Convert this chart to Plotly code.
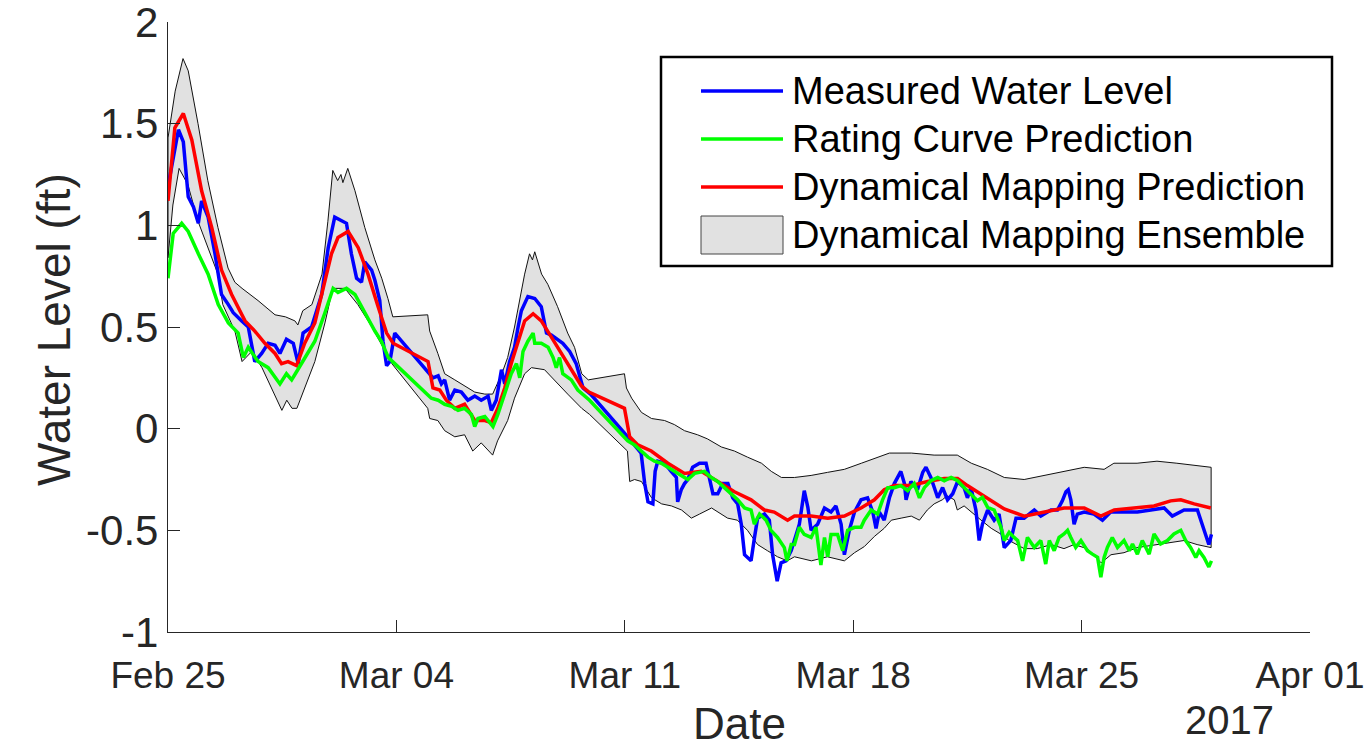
import numpy as np
import pandas as pd
import plotly.graph_objects as go

# Time axis: days elapsed since 2017-02-25 00:00
T0 = pd.Timestamp("2017-02-25")

# Ensemble envelope (ft), (day, value)
ensemble_upper = [
    (0.00, 1.43), (0.22, 1.66), (0.46, 1.82), (0.62, 1.76), (0.92, 1.50), (1.22, 1.22),
    (1.53, 0.99), (1.84, 0.79), (2.05, 0.72), (2.27, 0.69), (2.76, 0.63), (3.28, 0.56),
    (3.60, 0.55), (3.89, 0.53), (3.98, 0.51), (4.13, 0.58), (4.41, 0.61), (4.72, 0.76),
    (4.90, 1.02), (5.05, 1.27), (5.20, 1.22), (5.30, 1.25), (5.36, 1.21), (5.51, 1.28),
    (5.73, 1.17), (6.03, 0.99), (6.34, 0.83), (6.55, 0.74), (6.74, 0.64), (6.89, 0.55),
    (7.96, 0.56), (8.02, 0.48), (8.27, 0.37), (8.48, 0.27), (8.79, 0.24), (9.09, 0.21),
    (9.40, 0.18), (9.71, 0.17), (9.95, 0.17), (10.23, 0.27), (10.41, 0.35), (10.62, 0.50),
    (10.78, 0.63), (10.93, 0.76), (11.08, 0.86), (11.17, 0.83), (11.24, 0.87), (11.45, 0.76),
    (11.64, 0.71), (11.94, 0.60), (12.25, 0.47), (12.46, 0.40), (12.68, 0.27), (12.88, 0.24),
    (13.99, 0.27), (14.05, 0.20), (14.21, 0.15), (14.51, 0.08), (14.82, 0.05), (15.22, 0.04),
    (15.52, 0.02), (15.83, -0.01), (16.23, -0.03), (16.53, -0.05), (16.96, -0.09), (17.36, -0.11),
    (17.76, -0.14), (18.19, -0.17), (18.49, -0.21), (18.80, -0.24), (19.20, -0.24), (19.71, -0.23),
    (20.21, -0.215), (20.73, -0.20), (21.25, -0.17), (21.74, -0.14), (22.11, -0.12), (22.78, -0.12),
    (23.48, -0.13), (24.19, -0.13), (24.62, -0.17), (25.11, -0.20), (25.63, -0.24), (26.24, -0.25),
    (26.85, -0.23), (27.46, -0.21), (28.08, -0.19), (28.69, -0.20), (28.99, -0.17), (29.70, -0.17),
    (30.31, -0.16), (30.92, -0.17), (31.44, -0.18), (31.97, -0.19),
]

ensemble_lower = [
    (0.00, 0.84), (0.15, 1.10), (0.34, 1.28), (0.61, 1.20), (0.92, 1.02), (1.22, 0.89),
    (1.53, 0.76), (1.68, 0.61), (2.05, 0.48), (2.27, 0.33), (2.57, 0.38), (2.88, 0.30),
    (3.18, 0.20), (3.49, 0.09), (3.64, 0.14), (3.80, 0.10), (3.95, 0.10), (4.19, 0.20),
    (4.50, 0.33), (4.81, 0.52), (5.05, 0.69), (5.42, 0.69), (5.82, 0.61), (6.25, 0.50),
    (6.49, 0.43), (6.86, 0.32), (7.96, 0.10), (8.02, 0.05), (8.27, 0.04), (8.48, -0.01),
    (8.79, -0.04), (9.09, -0.03), (9.34, -0.11), (9.60, -0.07), (9.95, -0.13), (10.10, -0.06),
    (10.41, 0.04), (10.62, 0.15), (10.93, 0.27), (11.14, 0.30), (11.54, 0.29), (11.85, 0.24),
    (12.25, 0.17), (12.68, 0.10), (12.92, 0.07), (14.08, -0.11), (14.15, -0.26), (14.30, -0.25),
    (14.51, -0.26), (14.82, -0.34), (15.13, -0.37), (15.43, -0.38), (15.74, -0.40), (16.04, -0.44),
    (16.29, -0.42), (16.66, -0.39), (16.84, -0.41), (17.15, -0.44), (17.45, -0.45), (17.76, -0.50),
    (18.07, -0.57), (18.37, -0.60), (18.68, -0.63), (18.98, -0.65), (19.20, -0.63), (19.72, -0.65),
    (20.21, -0.63), (20.73, -0.65), (21.04, -0.61), (21.34, -0.58), (21.65, -0.53), (21.95, -0.49),
    (22.17, -0.45), (22.47, -0.44), (22.78, -0.43), (23.03, -0.45), (23.27, -0.40), (23.48, -0.37),
    (23.73, -0.35), (23.88, -0.33), (24.10, -0.35), (24.19, -0.40), (24.40, -0.38), (24.71, -0.42),
    (24.92, -0.45), (25.23, -0.49), (25.54, -0.52), (25.78, -0.55), (26.24, -0.59), (26.64, -0.59),
    (27.07, -0.57), (27.46, -0.59), (27.77, -0.57), (28.17, -0.59), (28.60, -0.66), (28.90, -0.62),
    (29.30, -0.61), (29.70, -0.585), (30.22, -0.57), (30.74, -0.56), (31.14, -0.55), (31.54, -0.57),
    (31.97, -0.585),
]

# Measured water level (ft)
measured = [
    (0.00, 1.19), (0.32, 1.47), (0.47, 1.41), (0.62, 1.14), (0.78, 1.09), (0.93, 1.01),
    (1.03, 1.12), (1.23, 1.04), (1.44, 0.86), (1.64, 0.66), (1.85, 0.61), (2.00, 0.57),
    (2.26, 0.53), (2.46, 0.50), (2.66, 0.33), (2.87, 0.37), (3.07, 0.42), (3.28, 0.41),
    (3.43, 0.37), (3.63, 0.44), (3.84, 0.42), (3.99, 0.32), (4.14, 0.47), (4.40, 0.50),
    (4.71, 0.66), (4.91, 0.89), (5.11, 1.04), (5.47, 1.01), (5.62, 0.86), (5.78, 0.74),
    (5.93, 0.72), (6.03, 0.82), (6.24, 0.78), (6.34, 0.73), (6.49, 0.63), (6.59, 0.43),
    (6.70, 0.31), (6.80, 0.33), (6.95, 0.47), (8.12, 0.25), (8.28, 0.26), (8.38, 0.22),
    (8.48, 0.24), (8.63, 0.14), (8.79, 0.19), (8.99, 0.18), (9.19, 0.14), (9.40, 0.16),
    (9.60, 0.14), (9.81, 0.16), (9.91, 0.09), (10.06, 0.14), (10.22, 0.29), (10.32, 0.22),
    (10.47, 0.33), (10.62, 0.40), (10.73, 0.50), (10.83, 0.58), (11.03, 0.65), (11.24, 0.64),
    (11.44, 0.60), (11.60, 0.47), (11.75, 0.46), (12.10, 0.42), (12.31, 0.38), (12.51, 0.32),
    (12.72, 0.20), (12.95, 0.17), (14.09, -0.04), (14.30, -0.08), (14.50, -0.12), (14.61, -0.27),
    (14.71, -0.36), (14.86, -0.37), (14.93, -0.21), (15.01, -0.16), (15.22, -0.17), (15.42, -0.21),
    (15.58, -0.24), (15.62, -0.36), (15.73, -0.30), (15.83, -0.27), (15.93, -0.25), (16.08, -0.19),
    (16.29, -0.17), (16.49, -0.17), (16.60, -0.26), (16.70, -0.32), (16.85, -0.32), (17.00, -0.27),
    (17.16, -0.27), (17.31, -0.34), (17.46, -0.37), (17.57, -0.47), (17.67, -0.62), (17.87, -0.65),
    (17.97, -0.54), (18.07, -0.44), (18.28, -0.42), (18.43, -0.45), (18.53, -0.62), (18.67, -0.75),
    (18.79, -0.66), (18.94, -0.65), (19.10, -0.60), (19.20, -0.55), (19.35, -0.47), (19.50, -0.305),
    (19.61, -0.387), (19.71, -0.50), (19.91, -0.47), (20.12, -0.39), (20.32, -0.41), (20.47, -0.38),
    (20.63, -0.47), (20.73, -0.62), (20.88, -0.50), (21.04, -0.41), (21.24, -0.35), (21.44, -0.34),
    (21.60, -0.41), (21.70, -0.49), (21.80, -0.41), (21.95, -0.45), (22.11, -0.34), (22.26, -0.27),
    (22.46, -0.21), (22.57, -0.27), (22.62, -0.35), (22.77, -0.26), (22.97, -0.30), (23.13, -0.215),
    (23.23, -0.19), (23.38, -0.24), (23.59, -0.34), (23.74, -0.29), (23.89, -0.35), (24.05, -0.32),
    (24.20, -0.26), (24.40, -0.29), (24.50, -0.34), (24.61, -0.29), (24.76, -0.40), (24.86, -0.55),
    (24.96, -0.47), (25.12, -0.40), (25.32, -0.45), (25.47, -0.42), (25.63, -0.585), (25.83, -0.55),
    (25.99, -0.44), (26.24, -0.44), (26.55, -0.40), (26.75, -0.43), (27.06, -0.40), (27.26, -0.40),
    (27.41, -0.355), (27.52, -0.31), (27.59, -0.30), (27.67, -0.35), (27.77, -0.47), (27.87, -0.42),
    (28.08, -0.41), (28.38, -0.42), (28.64, -0.45), (28.89, -0.41), (29.30, -0.41), (29.71, -0.41),
    (30.12, -0.40), (30.53, -0.39), (30.78, -0.43), (31.14, -0.40), (31.55, -0.40), (31.75, -0.49),
    (31.90, -0.57), (31.98, -0.52),
]

# Rating curve prediction (ft)
rating_curve = [
    (0.00, 0.74), (0.16, 0.96), (0.42, 1.01), (0.62, 0.97), (0.93, 0.86), (1.23, 0.76),
    (1.54, 0.61), (1.85, 0.52), (2.15, 0.47), (2.31, 0.35), (2.46, 0.40), (2.76, 0.33),
    (3.07, 0.30), (3.43, 0.22), (3.63, 0.27), (3.79, 0.24), (3.94, 0.28), (4.19, 0.35),
    (4.50, 0.43), (4.81, 0.57), (5.06, 0.69), (5.21, 0.67), (5.47, 0.69), (5.73, 0.66),
    (6.03, 0.57), (6.34, 0.48), (6.54, 0.43), (6.75, 0.35), (6.95, 0.32), (8.07, 0.15),
    (8.28, 0.14), (8.48, 0.12), (8.69, 0.11), (8.89, 0.09), (9.09, 0.10), (9.30, 0.07),
    (9.40, 0.01), (9.50, 0.05), (9.71, 0.06), (9.96, 0.01), (10.11, 0.07), (10.32, 0.17),
    (10.52, 0.27), (10.68, 0.32), (10.78, 0.25), (10.88, 0.38), (11.03, 0.43), (11.19, 0.47),
    (11.24, 0.42), (11.44, 0.42), (11.65, 0.40), (11.80, 0.35), (11.90, 0.30), (12.00, 0.35),
    (12.10, 0.27), (12.36, 0.24), (12.56, 0.19), (12.92, 0.14), (14.09, -0.06), (14.30, -0.08),
    (14.50, -0.11), (14.71, -0.14), (14.91, -0.16), (15.12, -0.17), (15.32, -0.19), (15.62, -0.22),
    (15.93, -0.25), (16.14, -0.22), (16.44, -0.21), (16.65, -0.24), (16.85, -0.26), (17.05, -0.29),
    (17.26, -0.32), (17.46, -0.35), (17.67, -0.39), (17.87, -0.40), (17.97, -0.47), (18.13, -0.42),
    (18.33, -0.45), (18.48, -0.50), (18.68, -0.535), (18.89, -0.585), (18.97, -0.65), (19.10, -0.57),
    (19.20, -0.57), (19.35, -0.485), (19.50, -0.52), (19.71, -0.535), (19.86, -0.485), (20.01, -0.67),
    (20.12, -0.535), (20.22, -0.63), (20.32, -0.52), (20.52, -0.52), (20.68, -0.60), (20.83, -0.50),
    (21.04, -0.485), (21.24, -0.485), (21.34, -0.45), (21.55, -0.40), (21.75, -0.42), (21.90, -0.35),
    (22.06, -0.29), (22.26, -0.29), (22.46, -0.28), (22.67, -0.305), (22.87, -0.27), (23.03, -0.34),
    (23.18, -0.29), (23.38, -0.256), (23.59, -0.24), (23.79, -0.256), (24.00, -0.24), (24.20, -0.256),
    (24.40, -0.29), (24.61, -0.32), (24.81, -0.354), (24.96, -0.338), (25.12, -0.387), (25.32, -0.40),
    (25.53, -0.485), (25.63, -0.55), (25.78, -0.51), (25.93, -0.535), (26.04, -0.55), (26.19, -0.65),
    (26.34, -0.535), (26.55, -0.584), (26.75, -0.55), (26.90, -0.666), (27.01, -0.55), (27.16, -0.60),
    (27.31, -0.535), (27.46, -0.518), (27.57, -0.50), (27.67, -0.535), (27.82, -0.584), (27.98, -0.55),
    (28.18, -0.60), (28.33, -0.617), (28.49, -0.633), (28.59, -0.73), (28.69, -0.633), (28.79, -0.584),
    (28.94, -0.535), (29.10, -0.584), (29.30, -0.55), (29.46, -0.60), (29.56, -0.567), (29.71, -0.617),
    (29.86, -0.55), (30.07, -0.617), (30.22, -0.518), (30.42, -0.567), (30.63, -0.55), (30.83, -0.518),
    (31.04, -0.50), (31.19, -0.55), (31.34, -0.584), (31.50, -0.633), (31.60, -0.60), (31.75, -0.633),
    (31.90, -0.68), (31.98, -0.65),
]

# Dynamical mapping prediction (ft)
dynamical_mapping = [
    (0.00, 1.12), (0.21, 1.48), (0.47, 1.55), (0.73, 1.42), (1.03, 1.17), (1.34, 0.99),
    (1.64, 0.78), (1.95, 0.66), (2.36, 0.53), (2.66, 0.48), (2.97, 0.42), (3.28, 0.37),
    (3.48, 0.32), (3.68, 0.33), (3.94, 0.31), (4.19, 0.42), (4.50, 0.52), (4.81, 0.73),
    (5.01, 0.86), (5.21, 0.94), (5.52, 0.97), (5.83, 0.89), (6.13, 0.76), (6.44, 0.60),
    (6.54, 0.55), (6.70, 0.47), (6.90, 0.42), (7.97, 0.33), (8.12, 0.20), (8.33, 0.19),
    (8.53, 0.14), (8.79, 0.10), (9.09, 0.12), (9.30, 0.07), (9.40, 0.04), (9.71, 0.04),
    (9.91, 0.03), (10.11, 0.10), (10.32, 0.20), (10.52, 0.32), (10.73, 0.43), (10.93, 0.53),
    (11.19, 0.565), (11.44, 0.53), (11.75, 0.45), (12.05, 0.37), (12.36, 0.29), (12.67, 0.21),
    (12.90, 0.18), (13.99, 0.10), (14.15, -0.04), (14.40, -0.08), (14.81, -0.11), (15.32, -0.17),
    (15.83, -0.22), (16.34, -0.21), (16.85, -0.26), (17.36, -0.31), (17.87, -0.35), (18.28, -0.40),
    (18.58, -0.41), (18.99, -0.45), (19.20, -0.43), (19.71, -0.43), (20.22, -0.44), (20.73, -0.43),
    (21.24, -0.39), (21.65, -0.35), (21.95, -0.30), (22.26, -0.28), (22.77, -0.28), (23.28, -0.26),
    (23.79, -0.245), (24.20, -0.245), (24.50, -0.28), (24.91, -0.32), (25.32, -0.36), (25.63, -0.395),
    (26.24, -0.43), (26.85, -0.41), (27.46, -0.39), (28.08, -0.39), (28.59, -0.43), (29.00, -0.40),
    (29.71, -0.39), (30.22, -0.38), (30.73, -0.355), (31.04, -0.35), (31.45, -0.37), (31.96, -0.39),
]

y_tick_vals = [-1, -0.5, 0, 0.5, 1, 1.5, 2]
y_tick_text = ["-1", "-0.5", "0", "0.5", "1", "1.5", "2"]

legend_labels = [
    "Measured Water Level",
    "Rating Curve Prediction",
    "Dynamical Mapping Prediction",
    "Dynamical Mapping Ensemble",
]

FONT = "Liberation Sans, Arial, Helvetica, sans-serif"
INK = "#262626"
BLUE, GREEN, RED = "#0000ff", "#00ff00", "#ff0000"
BAND_FILL = "#e1e1e1"


def to_xy(pairs):
    d = np.array([p[0] for p in pairs])
    v = np.array([p[1] for p in pairs])
    return T0 + pd.to_timedelta(d, unit="D"), v


ux, uy = to_xy(ensemble_upper)
lx, ly = to_xy(ensemble_lower)
band_x = list(ux) + list(lx[::-1]) + [ux[0]]
band_y = list(uy) + list(ly[::-1]) + [uy[0]]

fig = go.Figure()

# Ensemble envelope as a closed polygon
fig.add_trace(go.Scatter(
    x=band_x, y=band_y, mode="lines", fill="toself",
    fillcolor=BAND_FILL, line=dict(color="#111111", width=1),
    hoverinfo="skip", showlegend=False,
))

for pairs, color in [(measured, BLUE), (dynamical_mapping, RED), (rating_curve, GREEN)]:
    x, y = to_xy(pairs)
    fig.add_trace(go.Scatter(
        x=x, y=y, mode="lines", line=dict(color=color, width=3.5),
        showlegend=False,
    ))

# Plot area in pixels: left 168, right 1310, top 22, bottom 632
L, R, TOP, BOT = 168, 1310, 22, 632


def px(xp):
    return (xp - L) / (R - L)


def py(yp):
    return (BOT - yp) / (BOT - TOP)


shapes = []
annotations = []

# Legend frame
shapes.append(dict(type="rect", xref="paper", yref="paper",
                   x0=px(661), x1=px(1332), y0=py(266), y1=py(57),
                   line=dict(color="black", width=2.5), fillcolor="white", layer="above"))
row_y = [91, 139, 187, 235]
for yy, color in zip(row_y[:3], [BLUE, GREEN, RED]):
    shapes.append(dict(type="line", xref="paper", yref="paper",
                       x0=px(701), x1=px(783), y0=py(yy), y1=py(yy),
                       line=dict(color=color, width=3.5), layer="above"))
shapes.append(dict(type="rect", xref="paper", yref="paper",
                   x0=px(701), x1=px(783), y0=py(row_y[3] + 19), y1=py(row_y[3] - 19),
                   line=dict(color="#444444", width=1), fillcolor=BAND_FILL, layer="above"))
for yy, label in zip(row_y, legend_labels):
    annotations.append(dict(xref="paper", yref="paper", x=px(790), y=py(yy),
                            xanchor="left", yanchor="middle", text=label, showarrow=False,
                            font=dict(family=FONT, size=38, color="black")))

# Axis titles and year label
annotations.append(dict(xref="paper", yref="paper", x=0.5, y=py(724),
                        xanchor="center", yanchor="middle", text="Date", showarrow=False,
                        font=dict(family=FONT, size=44, color=INK)))
annotations.append(dict(xref="paper", yref="paper", x=px(1229), y=py(720),
                        xanchor="center", yanchor="middle", text="2017", showarrow=False,
                        font=dict(family=FONT, size=40, color=INK)))
annotations.append(dict(xref="paper", yref="paper", x=px(54), y=py(330),
                        xanchor="center", yanchor="middle", text="Water Level (ft)",
                        textangle=-90, showarrow=False,
                        font=dict(family=FONT, size=46, color=INK)))

fig.update_layout(
    width=1366, height=751,
    margin=dict(l=L, r=1366 - R, t=TOP, b=751 - BOT, pad=0, autoexpand=False),
    paper_bgcolor="white", plot_bgcolor="white",
    showlegend=False,
    shapes=shapes, annotations=annotations,
    font=dict(family=FONT, color=INK),
)

fig.update_xaxes(
    type="date",
    range=[T0, T0 + pd.Timedelta(days=35)],
    tick0=T0, dtick=7 * 86400000, tickformat="%b %d",
    ticks="inside", ticklen=12, tickwidth=1.3, tickcolor=INK,
    showline=True, linecolor=INK, linewidth=1.3,
    showgrid=False, zeroline=False, automargin=False,
    ticklabeloverflow="allow", ticklabelstandoff=10,
    tickfont=dict(family=FONT, size=37, color=INK),
)
fig.update_yaxes(
    range=[-1, 2], tickvals=y_tick_vals, ticktext=y_tick_text,
    ticks="inside", ticklen=12, tickwidth=1.3, tickcolor=INK,
    showline=True, linecolor=INK, linewidth=1.3,
    showgrid=False, zeroline=False, automargin=False,
    ticklabeloverflow="allow",
    tickfont=dict(family=FONT, size=42, color=INK),
)

fig.write_html("out.html")
